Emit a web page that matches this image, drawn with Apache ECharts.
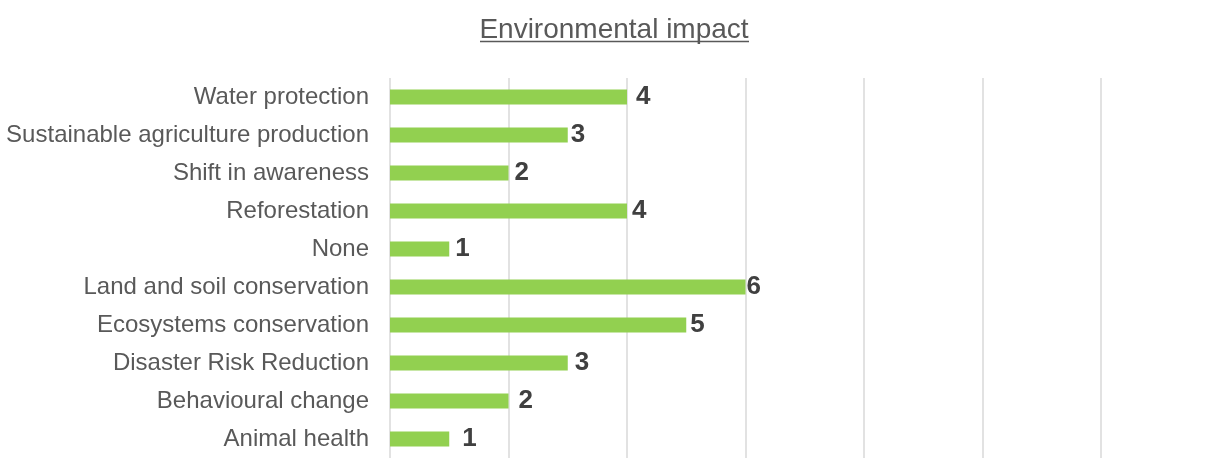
<!DOCTYPE html>
<html>
<head>
<meta charset="utf-8">
<script src="https://cdn.jsdelivr.net/npm/echarts@6/dist/echarts.min.js"></script>
<style>html,body{margin:0;padding:0;background:#fff}#c{width:1206px;height:458px}</style>
</head>
<body>
<div id="c"></div>
<script>
const categories = ["Water protection","Sustainable agriculture production","Shift in awareness","Reforestation","None","Land and soil conservation","Ecosystems conservation","Disaster Risk Reduction","Behavioural change","Animal health"];
const values = [4,3,2,4,1,6,5,3,2,1];
const titleText = "Environmental impact";
// label gaps (style only)
const labelGaps = [9,3,6,5,6,1,4,7,10,13];

const FONT = "'Liberation Sans', Arial, sans-serif";
const chart = echarts.init(document.getElementById('c'));
chart.setOption({
  animation: false,
  backgroundColor: '#ffffff',
  title: {
    text: titleText, top: 11, left: 609, textAlign: 'center',
    textStyle: {fontFamily: FONT, fontSize: 28, fontWeight: 'normal', color: '#595959'}
  },
  graphic: [{type: 'line', shape: {x1: 480, y1: 41.5, x2: 749, y2: 41.5}, style: {stroke: '#595959', lineWidth: 1.5}}],
  grid: {left: 390, right: 105, top: 78, bottom: -1},
  xAxis: {
    type: 'value', min: 0, max: 12, interval: 2,
    axisLabel: {show: false}, axisLine: {show: false}, axisTick: {show: false},
    splitLine: {show: true, lineStyle: {color: '#d9d9d9', width: 1.5}}
  },
  yAxis: {
    type: 'category', data: categories, inverse: true,
    axisLine: {show: false}, axisTick: {show: false},
    axisLabel: {fontFamily: FONT, fontSize: 24, color: '#595959', margin: 21}
  },
  series: [{
    type: 'bar', barWidth: 15,
    data: values.map((v, i) => ({value: v, label: {distance: labelGaps[i]}})),
    itemStyle: {color: '#92d050'},
    label: {show: true, position: 'right', fontFamily: FONT, fontSize: 26, fontWeight: 'bold', color: '#404040'}
  }]
});
</script>
</body>
</html>
